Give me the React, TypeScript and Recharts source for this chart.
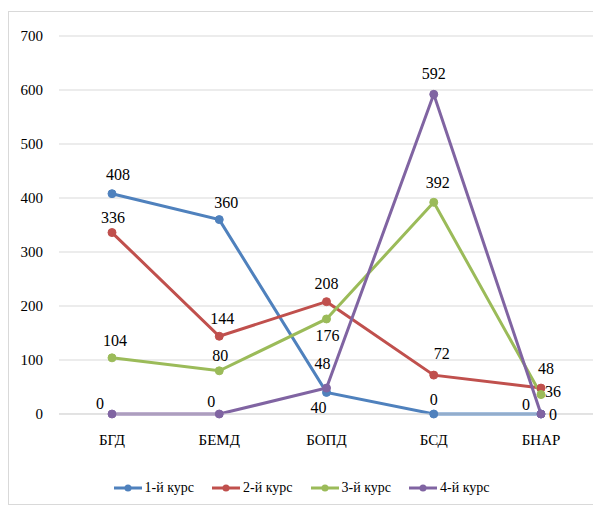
import { LineChart, Line, XAxis, YAxis, CartesianGrid, Legend } from 'recharts';

const categories = ['БГД', 'БЕМД', 'БОПД', 'БСД', 'БНАР'];
const course1 = [408, 360, 40, 0, 0];
const course2 = [336, 144, 208, 72, 48];
const course3 = [104, 80, 176, 392, 36];
const course4 = [0, 0, 48, 592, 0];
const yTicks = [0, 100, 200, 300, 400, 500, 600, 700];

const data = categories.map((name, i) => ({
  name,
  c1: course1[i],
  c2: course2[i],
  c3: course3[i],
  c4: course4[i],
}));

// label offsets (dx, dy) relative to each point, per series
const labelOffsets: Record<string, [number, number][]> = {
  c1: [[6, -19], [7, -17], [-8, 15], [0, -15], [-15, -10]],
  c2: [[1, -15], [3, -18], [0, -18], [8, -22], [5, -20]],
  c3: [[3, -17], [1, -15], [1, 16], [4, -20], [12, -3]],
  c4: [[-12, -11], [-8, -13], [-4, -25], [0, -21], [12, 0]],
};

const font = 'Liberation Serif, DejaVu Serif, Tinos, serif';

const makeLabel = (key: string) => (props: any) => {
  const { x, y, value, index } = props;
  const [dx, dy] = labelOffsets[key][index] || [0, -15];
  return (
    <text
      x={x + dx}
      y={y + dy}
      dy="0.35em"
      textAnchor="middle"
      fontSize={16}
      style={{ fontFamily: font }}
      fill="#000"
    >
      {value}
    </text>
  );
};

const series = [
  { key: 'c1', name: '1-й курс', color: '#4F81BD' },
  { key: 'c2', name: '2-й курс', color: '#C0504D' },
  { key: 'c3', name: '3-й курс', color: '#9BBB59' },
  { key: 'c4', name: '4-й курс', color: '#8064A2' },
];

export default function App() {
  return (
    <div style={{ paddingTop: 3 }}>
      <div
        style={{
          width: 600,
          height: 494,
          border: '1px solid #d9d9d9',
          borderRight: 'none',
          boxSizing: 'border-box',
          fontFamily: font,
        }}
      >
        <LineChart
          width={592}
          height={492}
          data={data}
          margin={{ top: 24, right: 7, left: 0, bottom: 0 }}
          style={{ fontFamily: font }}
        >
          <CartesianGrid vertical={false} stroke="#d9d9d9" />
          <XAxis
            dataKey="name"
            tickLine={false}
            axisLine={{ stroke: '#d9d9d9' }}
            padding={{ left: 53, right: 53 }}
            tick={{ fontSize: 15, fill: '#000', style: { fontFamily: font } }}
            tickMargin={14}
            height={40}
          />
          <YAxis
            domain={[0, 700]}
            ticks={yTicks}
            tickLine={false}
            axisLine={false}
            width={50}
            tickMargin={10}
            tick={{ fontSize: 15, fill: '#000', style: { fontFamily: font } }}
          />
          <Legend
            verticalAlign="bottom"
            height={50}
            content={() => (
              <div style={{ display: 'flex', justifyContent: 'center', gap: 18, paddingTop: 26, fontFamily: font }}>
                {series.map((s) => (
                  <div key={s.key} style={{ display: 'flex', alignItems: 'center', fontSize: 14, color: '#000' }}>
                    <svg width={28} height={10} style={{ marginRight: 3 }}>
                      <line x1={0} y1={5} x2={28} y2={5} stroke={s.color} strokeWidth={3} />
                      <circle cx={14} cy={5} r={3.5} fill={s.color} />
                    </svg>
                    <span>{s.name}</span>
                  </div>
                ))}
              </div>
            )}
          />
          {series.map((s) => (
            <Line
              key={s.key}
              type="linear"
              dataKey={s.key}
              name={s.name}
              stroke={s.color}
              strokeWidth={3}
              dot={{ r: 4, fill: s.color, stroke: s.color, strokeWidth: 1 }}
              activeDot={false}
              isAnimationActive={false}
              label={makeLabel(s.key)}
            />
          ))}
        </LineChart>
      </div>
    </div>
  );
}
